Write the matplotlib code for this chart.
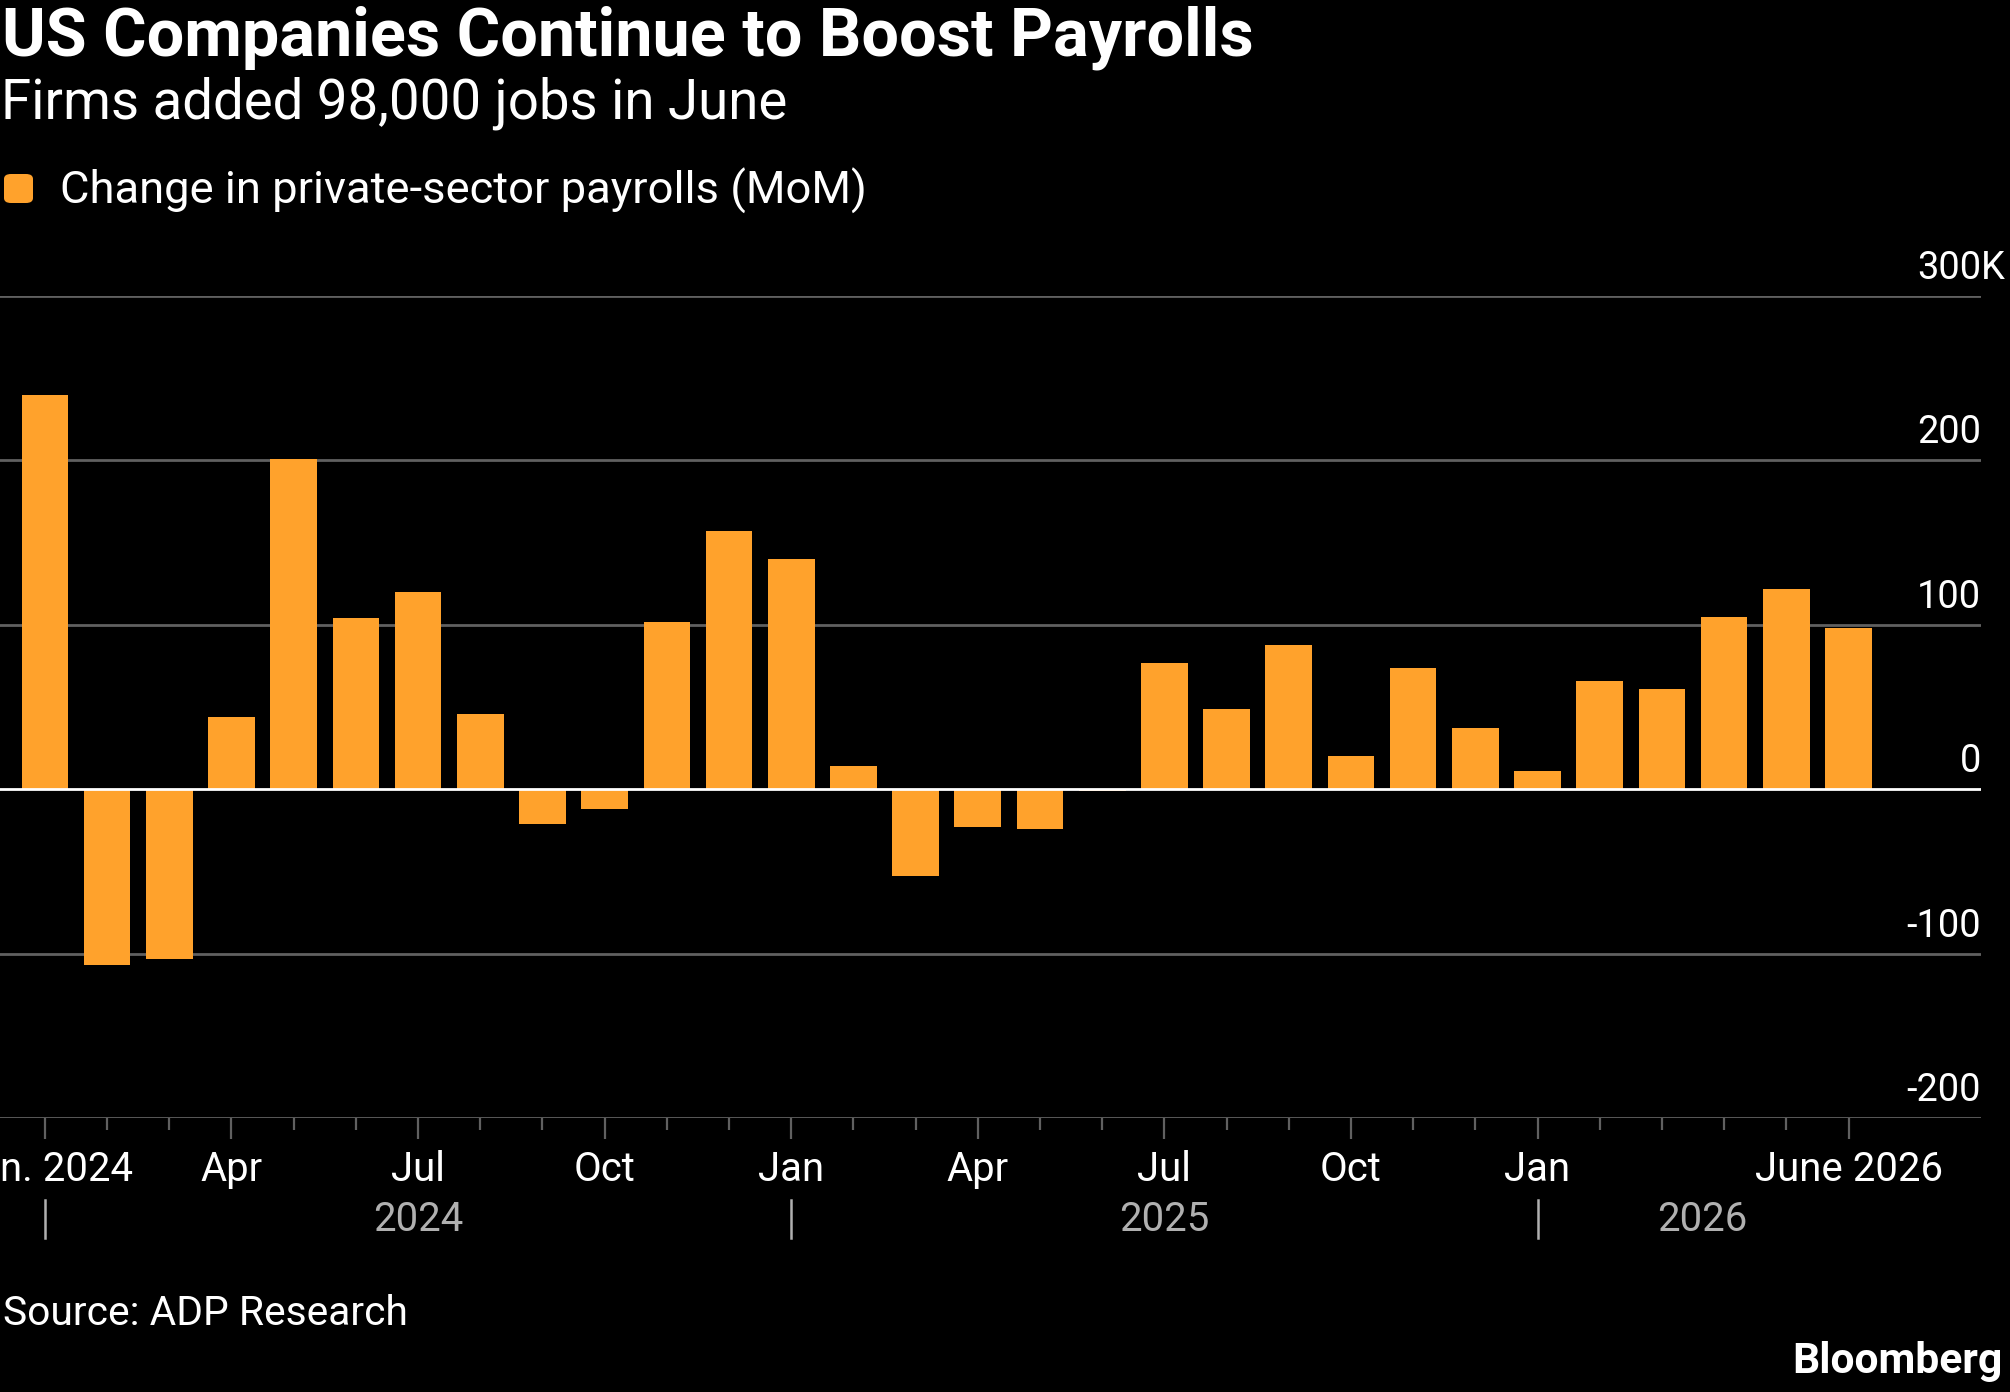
import matplotlib
matplotlib.use("Agg")
import matplotlib.pyplot as plt
from matplotlib.patches import FancyBboxPatch
import matplotlib.transforms as mtransforms

# ---------------- data ----------------
months = ["2024-01", "2024-02", "2024-03", "2024-04", "2024-05", "2024-06",
          "2024-07", "2024-08", "2024-09", "2024-10", "2024-11", "2024-12",
          "2025-01", "2025-02", "2025-03", "2025-04", "2025-05", "2025-06",
          "2025-07", "2025-08", "2025-09", "2025-10", "2025-11", "2025-12",
          "2026-01", "2026-02", "2026-03", "2026-04", "2026-05", "2026-06"]
payroll_change_k = [240, -107, -103, 44, 201, 104, 120, 46, -21, -12, 102, 157,
                    140, 14, -53, -23, -24, -1, 77, 49, 88, 20, 74, 37,
                    11, 66, 61, 105, 122, 98]
major_tick_idx = [0, 3, 6, 9, 12, 15, 18, 21, 24, 29]
major_tick_labels = ["Jan. 2024", "Apr", "Jul", "Oct", "Jan", "Apr", "Jul",
                     "Oct", "Jan", "June 2026"]
year_labels = ["2024", "2025", "2026"]
year_label_pos = [6, 18, 26.65]
year_sep_idx = [0, 12, 24]
y_ticks = [-200, -100, 0, 100, 200, 300]
y_tick_labels = ["-200", "-100", "0", "100", "200", "300"]
y_unit = "K"

title = "US Companies Continue to Boost Payrolls"
subtitle = "Firms added 98,000 jobs in June"
legend_label = "Change in private-sector payrolls (MoM)"
source = "Source: ADP Research"
brand = "Bloomberg"

# ---------------- style ----------------
FONT = "Roboto"
plt.rcParams["font.family"] = [FONT, "DejaVu Sans"]
BG = "black"
BAR = "#FFA22C"
GRID = "#606060"
GRAY_TXT = "#b0b0b0"

W, H = 2010, 1392
fig = plt.figure(figsize=(W / 100, H / 100), dpi=100, facecolor=BG)
renderer = fig.canvas.get_renderer()


def fx(px):
    return px / W


def fy(px):
    return 1 - px / H


def fit_size(text, target_px, weight="normal", base=30.0):
    """Font size (pt) for which `text` is target_px wide."""
    t = fig.text(0, 0, text, fontsize=base, fontweight=weight)
    w = t.get_window_extent(renderer).width
    t.remove()
    return base * target_px / w


ax_left, ax_right, ax_top, ax_bot = 0, 1981, 296, 1118
ax = fig.add_axes([fx(ax_left), fy(ax_bot), fx(ax_right - ax_left),
                   (ax_bot - ax_top) / H])
ax.set_facecolor(BG)

x = list(range(len(months)))
ax.bar(x, payroll_change_k, width=0.75, color=BAR, zorder=2, linewidth=0)
ax.set_xlim(-0.722, 31.13)
ax.set_ylim(-200, 300)

for v in y_ticks:
    if v == 0:
        ax.axhline(v, color="white", lw=2.0, zorder=3)
    else:
        ax.axhline(v, color=GRID, lw=2.0, zorder=1)

for sp in ax.spines.values():
    sp.set_visible(False)
ax.set_yticks([])

# y labels sitting above their gridlines, right aligned
ysize = fit_size("200", 64)
off = mtransforms.offset_copy(ax.transData, fig=fig, x=0, y=17, units="dots")
ylab_tr = mtransforms.blended_transform_factory(ax.transAxes, off)
for v, lab in zip(y_ticks, y_tick_labels):
    ax.text(1.0, v, lab, transform=ylab_tr, ha="right", va="baseline",
            color="white", fontsize=ysize)
ax.text(1.0, y_ticks[-1], y_unit, transform=ylab_tr, ha="left",
        va="baseline", color="white", fontsize=ysize)

# x ticks (labels drawn as text at a fixed baseline)
minor = [i for i in x if i not in major_tick_idx]
ax.set_xticks(major_tick_idx)
ax.set_xticklabels([""] * len(major_tick_idx))
ax.set_xticks(minor, minor=True)
ax.tick_params(axis="x", which="major", length=15, width=1.6, color=GRID, pad=0)
ax.tick_params(axis="x", which="minor", length=8.5, width=1.6, color=GRID)

bt = mtransforms.blended_transform_factory(ax.transData, fig.transFigure)
xsize = fit_size("June 2026", 188)
for i, lab in zip(major_tick_idx, major_tick_labels):
    ax.text(i, fy(1181), lab, transform=bt, ha="center", va="baseline",
            color="white", fontsize=xsize, clip_on=False)

for lab, p in zip(year_labels, year_label_pos):
    ax.text(p, fy(1231), lab, transform=bt, ha="center", va="baseline",
            color=GRAY_TXT, fontsize=xsize, clip_on=False)
for i in year_sep_idx:
    ax.plot([i, i], [fy(1200), fy(1238)], transform=bt, color=GRAY_TXT,
            lw=1.8, clip_on=False)

# header
fig.text(fx(2), fy(56), title, ha="left", va="baseline", color="white",
         fontsize=fit_size(title, 1248, "bold"), fontweight="bold")
fig.text(fx(1), fy(118), subtitle, ha="left", va="baseline", color="white",
         fontsize=fit_size(subtitle, 785))
fig.patches.append(FancyBboxPatch((fx(4), fy(203)), fx(29), 29 / H,
                                  boxstyle="round,pad=0,rounding_size=0.0035",
                                  transform=fig.transFigure, color=BAR,
                                  linewidth=0))
fig.text(fx(60), fy(204), legend_label, ha="left", va="baseline",
         color="white", fontsize=fit_size(legend_label, 805))

# footer
fig.text(fx(3), fy(1325), source, ha="left", va="baseline", color="white",
         fontsize=fit_size(source, 404))
fig.text(fx(2002), fy(1373), brand, ha="right", va="baseline",
         color="white", fontsize=fit_size(brand, 210, "bold"),
         fontweight="bold")

fig.savefig("out.png", dpi=100, facecolor=BG)
